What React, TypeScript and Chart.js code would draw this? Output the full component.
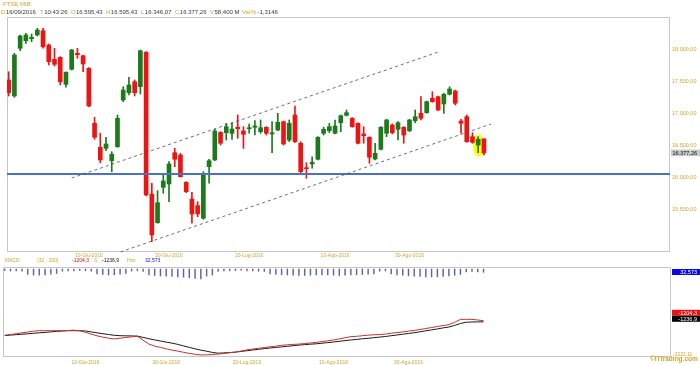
import React, { useEffect, useRef } from 'react';
import { Chart, registerables } from 'chart.js';

Chart.register(...registerables);

const FONT = '"Liberation Sans", Arial, Helvetica, sans-serif';
const GOLD = '#d3a62e';

// ---- DATA ----
const openP = [
  17516, 17266, 18011, 18130, 18161, 18219, 18286, 18063, 17839, 17870,
  17448, 17683, 17933, 17895, 17698, 16839, 16464, 16448, 16255, 16473,
  17203, 17317, 17489, 17411, 17948, 15734, 15286, 15839, 15891, 16380,
  16344, 15917, 15656, 15552, 15355, 16161, 16266, 16698, 16692, 16683,
  16777, 16719, 16755, 16777, 16708, 16777, 16672, 16734, 16864, 16578,
  16969, 16527, 16145, 16203, 16277, 16683, 16723, 16683, 16848, 16964,
  16917, 16839, 16672, 16620, 16281, 16433, 16683, 16813, 16745, 16777,
  16723, 16880, 16995, 17005, 17230, 17255, 17141, 17292, 17344, 16875,
  16942, 16630, 16500, 16595.43,
];
const highP = [
  17645, 17933, 18219, 18245, 18234, 18323, 18323, 18078, 18011, 17880,
  17645, 17995, 18011, 17906, 17708, 16933, 16683, 16620, 16395, 16969,
  17411, 17558, 17516, 17984, 17958, 15902, 15786, 16058, 16239, 16448,
  16370, 15927, 15761, 15614, 16083, 16277, 16745, 16708, 16839, 16848,
  16969, 16786, 16828, 16880, 16891, 16786, 16864, 16995, 16875, 16891,
  17109, 16552, 16223, 16317, 16630, 16777, 16839, 16891, 16969, 17047,
  16927, 16848, 16786, 16630, 16527, 16786, 16902, 16828, 16864, 16786,
  16902, 17047, 17255, 17188, 17333, 17266, 17308, 17411, 17359, 16902,
  16969, 16692, 16630, 16595.43,
];
const lowP = [
  17266, 17245, 17973, 18089, 18114, 18203, 18011, 17750, 17734, 17438,
  17402, 17672, 17855, 17645, 17098, 16589, 16223, 16411, 16083, 16464,
  17177, 17281, 17266, 17297, 15703, 14989, 15277, 15745, 15614, 16161,
  16000, 15755, 15277, 15380, 15339, 15902, 16255, 16500, 16578, 16589,
  16605, 16448, 16683, 16656, 16683, 16656, 16380, 16723, 16500, 16552,
  16536, 16058, 15980, 16136, 16266, 16656, 16692, 16672, 16708, 16953,
  16777, 16516, 16527, 16214, 16266, 16422, 16630, 16672, 16578, 16527,
  16708, 16848, 16891, 16995, 17167, 17036, 16995, 17281, 17125, 16683,
  16542, 16527, 16380, 16346.07,
];
const closeP = [
  17317, 17906, 18203, 18219, 18183, 18297, 18036, 17802, 17761, 17489,
  17636, 17984, 17911, 17766, 17109, 16620, 16266, 16516, 16355, 16917,
  17359, 17438, 17317, 17973, 15719, 15094, 15598, 15938, 16203, 16277,
  16005, 15770, 15422, 15422, 16047, 16255, 16719, 16527, 16786, 16750,
  16755, 16667, 16766, 16797, 16770, 16683, 16692, 16855, 16516, 16839,
  16552, 16083, 16130, 16230, 16620, 16745, 16786, 16797, 16958, 17005,
  16786, 16527, 16645, 16308, 16370, 16777, 16891, 16692, 16848, 16656,
  16891, 16942, 16917, 17177, 17177, 17047, 17292, 17375, 17152, 16839,
  16552, 16542, 16589, 16377.26,
];

const macdLine = [
  -1638, -1614, -1590, -1564, -1540, -1516, -1501, -1501, -1501, -1501,
  -1501, -1495, -1486, -1504, -1549, -1602, -1653, -1691, -1724, -1745,
  -1724, -1703, -1682, -1665, -1783, -1899, -1959, -1997, -2039, -2077,
  -2107, -2143, -2175, -2200, -2222.11, -2218, -2206, -2195, -2178, -2155,
  -2137, -2104, -2071, -2045, -2024, -2003, -1979, -1959, -1935, -1920,
  -1908, -1899, -1884, -1866, -1849, -1825, -1804, -1777, -1745, -1712,
  -1677, -1668, -1650, -1632, -1623, -1614, -1602, -1575, -1558, -1537,
  -1513, -1492, -1466, -1436, -1406, -1376, -1350, -1320, -1252, -1166,
  -1163, -1166, -1183, -1204.3,
];
const signalLine = [
  -1647, -1632, -1620, -1605, -1593, -1578, -1564, -1552, -1537, -1522,
  -1510, -1501, -1501, -1501, -1510, -1537, -1564, -1590, -1614, -1638,
  -1650, -1653, -1656, -1662, -1700, -1739, -1775, -1807, -1840, -1870,
  -1908, -1953, -1997, -2039, -2077, -2110, -2146, -2169, -2161, -2149,
  -2137, -2116, -2095, -2074, -2054, -2033, -2015, -1997, -1982, -1965,
  -1947, -1929, -1914, -1902, -1890, -1873, -1855, -1837, -1816, -1795,
  -1777, -1760, -1742, -1727, -1709, -1691, -1673, -1650, -1629, -1605,
  -1584, -1561, -1534, -1504, -1477, -1448, -1418, -1391, -1344, -1287,
  -1249, -1243, -1240, -1236.9,
];
const histVals = [
  15, 20, 18, 22,
  55, 60, 62, 58, 52, 45,
  22, 18, 20, 15, 18, 22,
  48, 55, 60, 58, 52, 45,
  20, 18, 25,
  60, 65, 70, 72, 75, 78, 82, 88, 95, 100,
  70, 60,
  25, 20, 18, 15, 12, 18, 20, 22, 25,
  50, 55, 58, 60, 62, 65, 65, 62, 60, 58, 60, 62, 65, 62, 60,
  58, 55, 52, 50,
  22, 20,
  50, 58, 62, 68, 72, 75, 78, 80, 78, 75, 70, 62, 55,
  30, 25, 28, 32.573,
];

const dateTickIdx = [14, 28, 42, 57, 70];
const dateTickLabels = ['10-Giu-2016', '30-Giu-2016', '20-Lug-2016', '10-Ago-2016', '30-Ago-2016'];
const priceTicks = [15500, 16000, 16500, 17000, 17500, 18000];
const supportLevel = [16047];
const upperChannel = [{ x: 11, y: 15984 }, { x: 75.05, y: 17953 }];
const lowerChannel = [{ x: 19.5, y: 14828 }, { x: 84.25, y: 16828 }];
const highlightPoint = [{ x: 82.08, y: 16492 }];
const macdMinTick = [-2222.11];

const headerInfo = {
  name: 'FTSE MIB', date: '16/09/2016', time: '10:43:26', vol: '58,400 M', varPct: '-1,3146',
};

const X_MIN = -0.295, X_MAX = 115.5;
const Y_MIN = 14828, Y_MAX = 18500;
const M_MIN = -2282, M_MAX = 390;

function fmtIt(v: number, dec: number, group = true) {
  const neg = v < 0;
  const [i, f] = Math.abs(v).toFixed(dec).split('.');
  const g = group ? i.replace(/\B(?=(\d{3})+(?!\d))/g, '.') : i;
  return (neg ? '-' : '') + g + (f ? ',' + f : '');
}

const last = closeP.length - 1;

function makeEllipse() {
  const c = document.createElement('canvas');
  c.width = 12; c.height = 23;
  const g = c.getContext('2d')!;
  g.fillStyle = 'rgba(255,255,0,0.95)';
  g.beginPath();
  g.ellipse(6, 11.5, 5.8, 11.3, 0, 0, Math.PI * 2);
  g.fill();
  return c;
}

const framePlugin = {
  id: 'frame',
  beforeDatasetsDraw(chart: any) {
    const { ctx, chartArea: a } = chart;
    ctx.save();
    ctx.strokeStyle = '#c6c6c6';
    ctx.lineWidth = 1;
    ctx.strokeRect(Math.round(a.left) + 0.5, Math.round(a.top) + 0.5, Math.round(a.right - a.left) - 1, Math.round(a.bottom - a.top) - 1);
    ctx.restore();
  },
};

function drawBox(ctx: any, x0: number, x1: number, top: number, h: number, fill: string, color: string, text: string) {
  ctx.fillStyle = fill;
  ctx.fillRect(x0, top, x1 - x0, h);
  ctx.fillStyle = color;
  ctx.font = `5.5px ${FONT}`;
  ctx.textAlign = 'right';
  ctx.textBaseline = 'middle';
  ctx.fillText(text, x1 - 3, top + h / 2 + 0.3);
}

const priceBoxPlugin = {
  id: 'priceBox',
  afterDraw(chart: any) {
    const { ctx, chartArea: a } = chart;
    const y = chart.scales.y.getPixelForValue(closeP[last]);
    ctx.save();
    drawBox(ctx, a.right + 1, chart.width, y - 3.3, 6.6, '#c9c9c9', '#111', fmtIt(closeP[last], 2));
    ctx.restore();
  },
};

const macdBoxPlugin = {
  id: 'macdBox',
  afterDraw(chart: any) {
    const { ctx, chartArea: a } = chart;
    const x0 = a.right + 1, x1 = chart.width;
    const yh0 = chart.scales.yh.getPixelForValue(0);
    const ySig = chart.scales.y.getPixelForValue(signalLine[last]);
    ctx.save();
    drawBox(ctx, x0, x1, yh0, 6, '#0a0ae6', '#fff', fmtIt(histVals[last], 3, false));
    drawBox(ctx, x0, x1, ySig - 12, 6, '#ee1010', '#fff', fmtIt(macdLine[last], 1, false));
    drawBox(ctx, x0, x1, ySig - 6, 6, '#050505', '#fff', fmtIt(signalLine[last], 1, false));
    ctx.restore();
  },
};

const xAxis = (labelPad: number, h: number) => ({
  type: 'linear' as const,
  min: X_MIN,
  max: X_MAX,
  offset: false,
  grid: { display: false, drawTicks: false },
  border: { display: false },
  afterBuildTicks: (s: any) => { s.ticks = dateTickIdx.map((v) => ({ value: v })); },
  afterFit: (s: any) => { s.height = h; },
  ticks: {
    autoSkip: false,
    maxRotation: 0,
    minRotation: 0,
    padding: labelPad,
    color: GOLD,
    font: { family: FONT, size: 5 },
    callback: (_v: any, i: number) => dateTickLabels[i],
  },
});

export default function App() {
  const mainRef = useRef<HTMLCanvasElement>(null);
  const macdRef = useRef<HTMLCanvasElement>(null);

  useEffect(() => {
    const idx = closeP.map((_, i) => i);
    const colors = idx.map((i) => (closeP[i] >= openP[i] ? '#1c7a1c' : '#ee1414'));
    const main = new Chart(mainRef.current!, {
      type: 'bar',
      data: {
        datasets: [
          {
            type: 'scatter' as any,
            data: highlightPoint,
            pointStyle: makeEllipse() as any,
            pointRadius: 6,
            order: 10,
          } as any,
          {
            type: 'bar',
            data: idx.map((i) => ({ x: i, y: [lowP[i], highP[i]] })) as any,
            backgroundColor: colors,
            barThickness: 1,
            grouped: false,
            borderWidth: 0,
            order: 6,
          },
          {
            type: 'bar',
            data: idx.map((i) => ({ x: i, y: [openP[i], closeP[i]] })) as any,
            backgroundColor: colors,
            barThickness: 4,
            minBarLength: 1,
            grouped: false,
            borderWidth: 0,
            order: 5,
          },
          {
            type: 'line' as any,
            data: [{ x: X_MIN, y: supportLevel[0] }, { x: X_MAX, y: supportLevel[0] }],
            borderColor: '#4a72c4',
            borderWidth: 2,
            pointRadius: 0,
            order: 3,
          } as any,
          {
            type: 'line' as any,
            data: upperChannel,
            borderColor: '#4a4a4a',
            borderWidth: 0.8,
            borderDash: [3, 3],
            pointRadius: 0,
            order: 2,
          } as any,
          {
            type: 'line' as any,
            data: lowerChannel,
            borderColor: '#4a4a4a',
            borderWidth: 0.8,
            borderDash: [3, 3],
            pointRadius: 0,
            order: 2,
          } as any,
        ],
      },
      options: {
        animation: false,
        responsive: false,
        devicePixelRatio: 1,
        layout: { padding: { left: 3, top: 17, right: 0, bottom: 0 } },
        plugins: { legend: { display: false }, tooltip: { enabled: false } },
        scales: {
          x: xAxis(1, 10) as any,
          y: {
            type: 'linear',
            position: 'right',
            min: Y_MIN,
            max: Y_MAX,
            grid: { display: false, drawTicks: false },
            border: { display: false },
            afterBuildTicks: (s: any) => { s.ticks = priceTicks.map((v) => ({ value: v })); },
            afterFit: (s: any) => { s.width = 30; },
            ticks: {
              padding: 2,
              color: GOLD,
              font: { family: FONT, size: 5.5 },
              callback: (v: any) => fmtIt(Number(v), 2),
            },
          },
        },
      },
      plugins: [framePlugin, priceBoxPlugin],
    });

    const macd = new Chart(macdRef.current!, {
      type: 'bar',
      data: {
        datasets: [
          {
            type: 'bar',
            data: idx.map((i) => ({ x: i, y: histVals[i] })) as any,
            yAxisID: 'yh',
            backgroundColor: '#6262a6',
            barThickness: 0.8,
            borderWidth: 0,
            order: 5,
          },
          {
            type: 'line' as any,
            data: idx.map((i) => ({ x: i, y: signalLine[i] })),
            yAxisID: 'y',
            borderColor: '#1a1a1a',
            borderWidth: 1,
            pointRadius: 0,
            order: 2,
          } as any,
          {
            type: 'line' as any,
            data: idx.map((i) => ({ x: i, y: macdLine[i] })),
            yAxisID: 'y',
            borderColor: '#c8302c',
            borderWidth: 1,
            pointRadius: 0,
            order: 1,
          } as any,
        ],
      },
      options: {
        animation: false,
        responsive: false,
        devicePixelRatio: 1,
        layout: { padding: { left: 3, top: 5, right: 0, bottom: 0 } },
        plugins: { legend: { display: false }, tooltip: { enabled: false } },
        scales: {
          x: xAxis(3, 8) as any,
          y: {
            type: 'linear',
            position: 'right',
            min: M_MIN,
            max: M_MAX,
            grid: { display: false, drawTicks: false },
            border: { display: false },
            afterBuildTicks: (s: any) => { s.ticks = macdMinTick.map((v) => ({ value: v })); },
            afterFit: (s: any) => { s.width = 29; },
            ticks: {
              padding: 2,
              color: GOLD,
              font: { family: FONT, size: 5 },
              callback: (v: any) => fmtIt(Number(v), 2, false),
            },
          },
          yh: {
            type: 'linear',
            display: false,
            reverse: true,
            min: -20,
            max: 880,
          },
        },
      },
      plugins: [framePlugin, macdBoxPlugin],
    });

    return () => {
      main.destroy();
      macd.destroy();
    };
  }, []);

  const txt = (left: number, top: number, size: number, color: string, s: string, bold = false) => (
    <span
      key={`${left}-${top}-${s}`}
      style={{
        position: 'absolute', left, top, fontSize: size, lineHeight: `${size}px`, color,
        whiteSpace: 'nowrap', fontWeight: bold ? 700 : 400, fontFamily: FONT,
      }}
    >
      {s}
    </span>
  );

  const VAL = '#3a3a3a';
  const hdrTop = 9.3;
  return (
    <div style={{ position: 'absolute', left: 0, top: 0, width: 700, height: 365, background: '#fff', overflow: 'hidden' }}>
      <canvas ref={mainRef} width={700} height={262} style={{ position: 'absolute', left: 0, top: 0 }} />
      <canvas ref={macdRef} width={700} height={103} style={{ position: 'absolute', left: 0, top: 262 }} />
      {txt(3, 1, 6, GOLD, headerInfo.name)}
      {txt(1, hdrTop, 6, GOLD, 'D')}
      {txt(5.8, hdrTop, 6, VAL, headerInfo.date)}
      {txt(40, hdrTop, 6, GOLD, 'T')}
      {txt(44.2, hdrTop, 6, VAL, headerInfo.time)}
      {txt(71, hdrTop, 6, GOLD, 'O')}
      {txt(76, hdrTop, 6, VAL, fmtIt(openP[last], 2))}
      {txt(106, hdrTop, 6, GOLD, 'H')}
      {txt(110.8, hdrTop, 6, VAL, fmtIt(highP[last], 2))}
      {txt(141, hdrTop, 6, GOLD, 'L')}
      {txt(144.8, hdrTop, 6, VAL, fmtIt(lowP[last], 2))}
      {txt(175, hdrTop, 6, GOLD, 'C')}
      {txt(179.8, hdrTop, 6, VAL, fmtIt(closeP[last], 2))}
      {txt(210, hdrTop, 6, GOLD, 'V')}
      {txt(214.5, hdrTop, 6, VAL, headerInfo.vol)}
      {txt(242, hdrTop, 6, GOLD, 'Var%')}
      {txt(257.5, hdrTop, 6, VAL, headerInfo.varPct)}

      {txt(5, 257.5, 5, GOLD, 'MACD')}
      {txt(37, 257.5, 5, GOLD, '(32 , 200)')}
      {txt(72, 257.5, 5, '#e01010', fmtIt(macdLine[last], 1, false))}
      {txt(94, 257.5, 5, GOLD, 'S')}
      {txt(102, 257.5, 5, '#111', fmtIt(signalLine[last], 1, false))}
      {txt(127, 257.5, 5, GOLD, 'Hist')}
      {txt(145, 257.5, 5, '#1010d0', fmtIt(histVals[last], 3, false))}

      {txt(650, 356, 6.5, GOLD, '©ITtrading.com', true)}
    </div>
  );
}
